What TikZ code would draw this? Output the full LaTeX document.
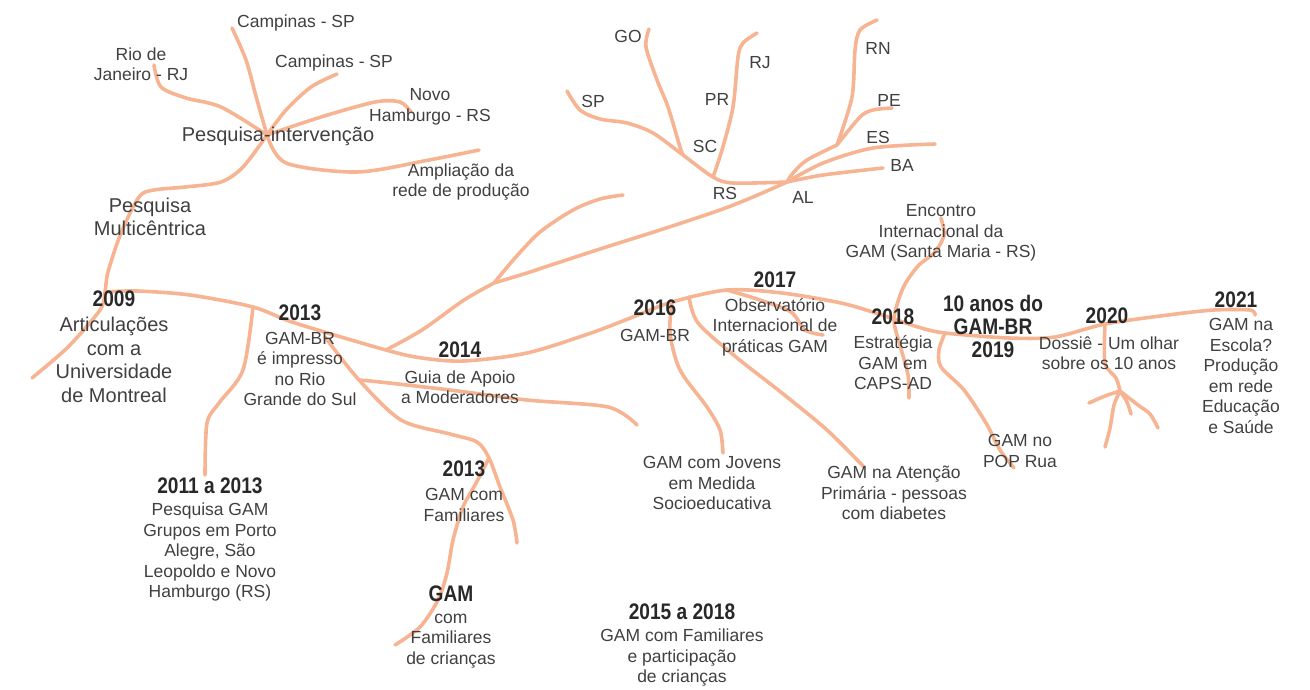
\documentclass[tikz,border=0pt]{standalone}
\usepackage{fontspec}
\setmainfont{Liberation Sans}
\newfontfamily\yearfont[FakeStretch=0.85]{Liberation Sans}
\usetikzlibrary{positioning}
\definecolor{gamline}{RGB}{246,180,146}
\definecolor{gamtext}{RGB}{64,64,64}
\definecolor{gamyear}{RGB}{40,40,40}
\tikzset{
  branch/.style={draw=gamline, line width=3.6pt, line cap=round, line join=round},
  lbl/.style={text=gamtext, align=center, inner sep=0pt, font=\fontsize{17.5}{20.5}\selectfont},
  biglbl/.style={lbl, font=\fontsize{20}{23.5}\selectfont},
  yearlbl/.style={text=gamyear, align=center, inner sep=0pt, font=\yearfont\bfseries\fontsize{22.5}{23}\selectfont}
}

\begin{document}
\begin{tikzpicture}[x=1pt, y=-1pt]

  \useasboundingbox (0,0) rectangle (1310,689);

  \coordinate (hubPI)   at (267,135);
  \coordinate (hubMain) at (105,292);
  \coordinate (hubRS)   at (713,177);
  \coordinate (hubAL)   at (787,182);
  \coordinate (hubRN)   at (837,145);
  \coordinate (fork14)  at (494,283);
  \coordinate (forkFam) at (489,458);
  \coordinate (forkGuia) at (359,380);
  \coordinate (root20)  at (1120,391);
  \coordinate (m2011)   at (253,307);
  \coordinate (mFam)    at (325,337);
  \coordinate (m2014)   at (386,350);
  \coordinate (mJov)    at (672,302);
  \coordinate (mAten)   at (689,297);
  \coordinate (mObs)    at (727,290);
  \coordinate (mEnc)    at (894,319);
  \coordinate (mPop)    at (945,333);
  \coordinate (m2020)   at (1105,324);

  % pesquisa-intervencao
  \draw[branch] plot[smooth] coordinates {(232,28) (246,60) (257,100) (hubPI)};
  \draw[branch] plot[smooth] coordinates {(154,65) (161,87) (186,98) (221,107) (hubPI)};
  \draw[branch] plot[smooth] coordinates {(337,74) (311,87) (286,110) (hubPI)};
  \draw[branch] plot[smooth] coordinates {(hubPI) (321,117) (375,102) (400,102) (411,112)};
  \draw[branch] plot[smooth] coordinates {(hubPI) (286,163) (357,172) (429,160) (479,150)};
  \draw[branch] plot[smooth] coordinates {(hubPI) (243,167) (221,182) (185,187) (154,190)
    (139,197) (121,233) (108,272) (hubMain) (100,310) (68,347) (32,378)};

  % linha principal
  \draw[branch] plot[smooth] coordinates {(hubMain) (137,291) (190,295) (m2011) (295,323)
    (m2014) (422,358) (464,361) (527,353) (591,333) (633,317) (mJov) (mObs) (782,293)
    (841,303) (882,315) (918,327) (mPop) (1009,338) (1055,337) (m2020) (1168,315)
    (1214,310) (1250,310) (1255,315)};

  \draw[branch] plot[smooth] coordinates {(m2011) (243,370) (219,403) (207,423) (205,475)};
  \draw[branch] plot[smooth] coordinates {(mFam) (forkGuia) (401,420) (450,434) (477,442)
    (forkFam) (500,487) (513,520) (517,543)};
  \draw[branch] plot[smooth] coordinates {(forkGuia) (380,382) (450,390) (527,400) (608,407) (637,425)};
  \draw[branch] plot[smooth] coordinates {(forkFam) (475,485) (463,507) (453,540) (447,573)
    (438,600) (420,627) (395,645)};

  % estados
  \draw[branch] plot[smooth] coordinates {(m2014) (422,330) (464,300) (fork14)};
  \draw[branch] plot[smooth] coordinates {(fork14) (515,258) (540,232) (573,210) (600,199) (623,195)};
  \draw[branch] plot[smooth] coordinates {(fork14) (527,273) (548,266) (600,249) (660,230)
    (720,210) (753,197) (hubAL)};
  \draw[branch] plot[smooth] coordinates {(567,91) (580,110) (600,119) (627,123) (653,133)
    (683,155) (hubRS) (733,183) (hubAL)};
  \draw[branch] plot[smooth] coordinates {(649,29) (646,47) (657,80) (668,107) (680,147) (683,155)};
  \draw[branch] plot[smooth] coordinates {(757,33) (743,43) (738,57) (733,107) (722,150) (hubRS)};
  \draw[branch] plot[smooth] coordinates {(877,20) (860,30) (855,50) (852,97) (hubRN)};
  \draw[branch] plot[smooth] coordinates {(hubAL) (793,173) (807,160) (hubRN)};
  \draw[branch] plot[smooth] coordinates {(hubRN) (860,117) (873,110) (892,108)};
  \draw[branch] plot[smooth] coordinates {(hubAL) (823,163) (873,148) (935,144)};
  \draw[branch] plot[smooth] coordinates {(hubAL) (823,175) (883,168)};

  % ramos 2016--2021
  \draw[branch] plot[smooth] coordinates {(mJov) (670,333) (680,370) (707,407) (720,430) (723,453)};
  \draw[branch] plot[smooth] coordinates {(mAten) (698,323) (736,357) (782,393) (827,430) (864,467)};
  \draw[branch] plot[smooth] coordinates {(mObs) (760,300) (791,312) (805,330) (823,335)};
  \draw[branch] plot[smooth] coordinates {(941,218) (944,235) (935,252) (918,266) (903,288)
    (mEnc) (900,345) (908,375) (909,398)};
  \draw[branch] plot[smooth] coordinates {(mPop) (939,350) (941,367) (964,390) (986,423)
    (1000,450) (1014,468)};
  \draw[branch] plot[smooth] coordinates {(m2020) (1105,363) (1116,378) (root20)};
  \draw[branch] plot[smooth] coordinates {(root20) (1105,396) (1089,403)};
  \draw[branch] plot[smooth] coordinates {(root20) (1114,405) (1110,428) (1105,447)};
  \draw[branch] plot[smooth] coordinates {(root20) (1127,402) (1131,414)};
  \draw[branch] plot[smooth] coordinates {(root20) (1138,405) (1150,414) (1158,428)};

  % textos
  \node[lbl] (campA) at (296,23) {Campinas - SP};
  \node[lbl] (campB) at (334,63) {Campinas - SP};
  \node[lbl] (rio) at (141,64) {Rio de\\Janeiro - RJ};
  \node[lbl] (novo) at (430,107) {Novo\\Hamburgo - RS};
  \node[biglbl] (pint) at (278,136) {Pesquisa-intervenção};
  \node[lbl] (ampl) at (461,182) {Ampliação da\\rede de produção};
  \node[biglbl] (pmult) at (150,217) {Pesquisa\\Multicêntrica};

  \node[lbl] (ufGO) at (628,36) {GO};
  \node[lbl] (ufSP) at (593,101) {SP};
  \node[lbl] (ufPR) at (717,99) {PR};
  \node[lbl] (ufRJ) at (760,63) {RJ};
  \node[lbl] (ufSC) at (705,146) {SC};
  \node[lbl] (ufRS) at (725,193) {RS};
  \node[lbl] (ufAL) at (803,197) {AL};
  \node[lbl] (ufRN) at (878,48) {RN};
  \node[lbl] (ufPE) at (889,100) {PE};
  \node[lbl] (ufES) at (878,137) {ES};
  \node[lbl] (ufBA) at (902,165) {BA};

  \node[yearlbl] (yr2009) at (114,299) {2009};
  \node[biglbl] (txt2009) at (114,360) {Articulações\\com a\\Universidade\\de Montreal};
  \node[yearlbl] (yr2013) at (300,313) {2013};
  \node[lbl] (txt2013) at (300,369) {GAM-BR\\é impresso\\no Rio\\Grande do Sul};
  \node[yearlbl] (yr2014) at (460,350) {2014};
  \node[lbl] (txt2014) at (460,387) {Guia de Apoio\\a Moderadores};
  \node[yearlbl] (yr2011) at (210,486) {2011 a 2013};
  \node[lbl] (txt2011) at (210,552) {Pesquisa GAM\\Grupos em Porto\\Alegre, São\\Leopoldo e Novo\\Hamburgo (RS)};
  \node[yearlbl] (yr2013b) at (464,469) {2013};
  \node[lbl] (txt2013b) at (464,505) {GAM com\\Familiares};
  \node[yearlbl] (yrGAM) at (451,594) {GAM};
  \node[lbl] (txtGAM) at (451,641) {com\\Familiares\\de crianças};
  \node[yearlbl] (yr2015) at (682,612) {2015 a 2018};
  \node[lbl] (txt2015) at (682,658) {GAM com Familiares\\e participação\\de crianças};
  \node[yearlbl] (yr2016) at (655,308) {2016};
  \node[lbl] (txt2016) at (655,335) {GAM-BR};
  \node[lbl] (txtJov) at (712,483) {GAM com Jovens\\em Medida\\Socioeducativa};
  \node[yearlbl] (yr2017) at (775,280) {2017};
  \node[lbl] (txt2017) at (775,327) {Observatório\\Internacional de\\práticas GAM};
  \node[lbl] (txtAten) at (894,493) {GAM na Atenção\\Primária - pessoas\\com diabetes};
  \node[lbl] (txtEnc) at (941,233) {Encontro\\Internacional da\\GAM (Santa Maria - RS)};
  \node[yearlbl] (yr2018) at (893,317) {2018};
  \node[lbl] (txt2018) at (893,363) {Estratégia\\GAM em\\CAPS-AD};
  \node[yearlbl] (yr2019) at (993,326) {10 anos do\\GAM-BR\\2019};
  \node[lbl] (txtPop) at (1020,451) {GAM no\\POP Rua};
  \node[yearlbl] (yr2020) at (1107,316) {2020};
  \node[lbl] (txt2020) at (1109,353) {Dossiê - Um olhar\\sobre os 10 anos};
  \node[yearlbl] (yr2021) at (1236,300) {2021};
  \begin{scope}
    \clip (1150,312) rectangle (1278,445);
    \node[lbl] (txt2021) at (1241,376) {GAM na\\Escola?\\Produção\\em rede\\Educação\\e Saúde};
  \end{scope}

\end{tikzpicture}
\end{document}
